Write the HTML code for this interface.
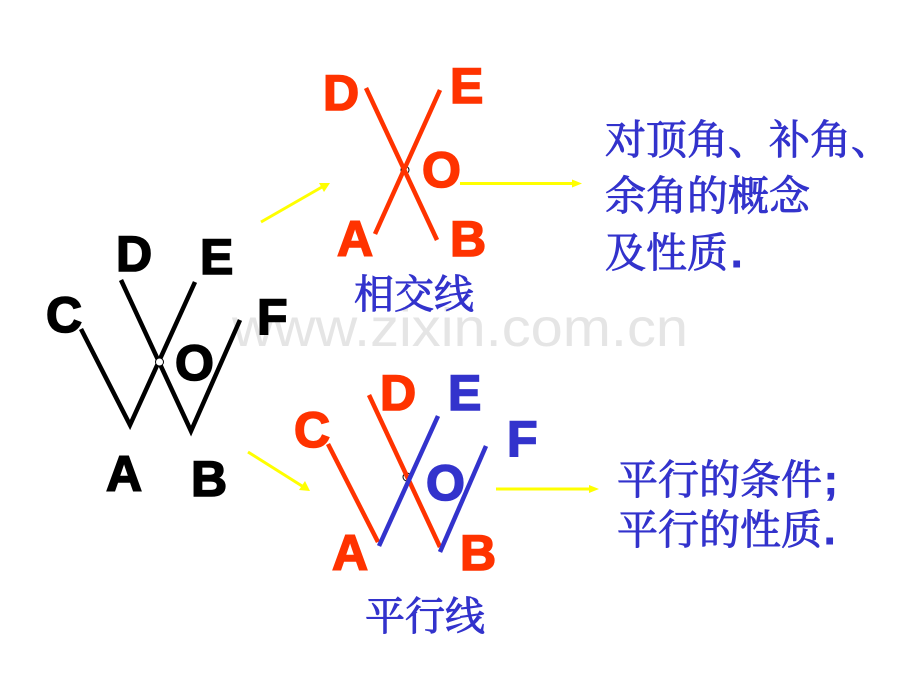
<!DOCTYPE html>
<html><head><meta charset="utf-8"><style>
html,body{margin:0;padding:0;background:#fff}
svg{display:block}
.l{font-family:"Liberation Sans",sans-serif;font-size:50px;font-weight:700;stroke-width:1.6px;stroke-linejoin:miter}
.l text{font-weight:700}
.c{font-family:"Liberation Sans","Noto Serif CJK SC",serif;font-size:41px;font-weight:400;fill:#3333cc;stroke:#3333cc;stroke-width:.9px}
</style></head><body>
<svg width="920" height="690" viewBox="0 0 920 690" xmlns="http://www.w3.org/2000/svg">
<rect width="920" height="690" fill="#fff"/>
<text x="232" y="346" font-family="Liberation Sans" font-size="54" fill="#e5e5e5" textLength="456" lengthAdjust="spacingAndGlyphs">www.zixin.com.cn</text>

<g fill="none" stroke="#000" stroke-width="4.500">
<polyline points="81,329 130,425 195,282"/>
<polyline points="121,280 191,431 240,320"/>
</g>
<circle cx="159.500" cy="362" r="4" fill="#fff" stroke="#000" stroke-width="1"/>
<g class="l" fill="#000" stroke="#000">
<text x="116" y="271">D</text><text x="200" y="274">E</text><text x="46" y="332">C</text>
<text x="257" y="334">F</text><text x="175" y="380">O</text><text x="106" y="491">A</text><text x="191" y="496">B</text>
</g>

<circle cx="405" cy="170" r="4" fill="#fff" stroke="#000" stroke-width="1"/>
<g stroke="#ff3300" stroke-width="4.500" fill="none">
<line x1="366" y1="88" x2="437" y2="240"/>
<line x1="440" y1="90" x2="375" y2="234"/>
</g>
<g class="l" fill="#ff3300" stroke="#ff3300">
<text x="323" y="110">D</text><text x="450" y="103">E</text><text x="422" y="187">O</text>
<text x="337" y="256">A</text><text x="450" y="256">B</text>
</g>
<text class="c" x="354" y="308" style="font-size:40px">相交线</text>

<circle cx="407" cy="477" r="4" fill="#fff" stroke="#000" stroke-width="1"/>
<g stroke="#ff3300" stroke-width="4.500" fill="none">
<line x1="328" y1="444" x2="378" y2="542"/>
<line x1="369" y1="395" x2="440" y2="547"/>
</g>
<g stroke="#3333cc" stroke-width="4.500" fill="none">
<line x1="438" y1="416" x2="379" y2="546"/>
<line x1="486" y1="446" x2="440" y2="552"/>
</g>
<g class="l">
<g fill="#ff3300" stroke="#ff3300">
<text x="294" y="447">C</text><text x="380" y="410">D</text>
<text x="332" y="570">A</text><text x="460" y="570">B</text>
</g>
<g fill="#3333cc" stroke="#3333cc">
<text x="448" y="410">E</text><text x="507" y="456">F</text>
<text x="426" y="500">O</text>
</g>
</g>
<text class="c" x="365" y="630" style="font-size:40px">平行线</text>

<g stroke="#ffff00" stroke-width="3" fill="none">
<line x1="261" y1="222" x2="322" y2="187"/>
<line x1="248" y1="452" x2="302" y2="486"/>
<line x1="460" y1="183.500" x2="572" y2="183.500"/>
<line x1="496" y1="489" x2="590" y2="489"/>
</g>
<g fill="#ffff00">
<polygon points="330,183 319,183 324,192"/>
<polygon points="310,491 299,490 305,481"/>
<polygon points="582,183.500 572,179.500 572,187.500"/>
<polygon points="599,489 589,485 589,493"/>
</g>

<text class="c" x="605" y="154">对顶角、补角、</text>
<text class="c" x="605" y="210">余角的概念</text>
<text class="c" x="605" y="267">及性质<tspan x="731" font-weight="700">.</tspan></text>
<text class="c" x="617" y="494">平行的条件<tspan x="824" font-weight="700">;</tspan></text>
<text class="c" x="617" y="544">平行的性质<tspan x="824" font-weight="700">.</tspan></text>
</svg>
</body></html>
